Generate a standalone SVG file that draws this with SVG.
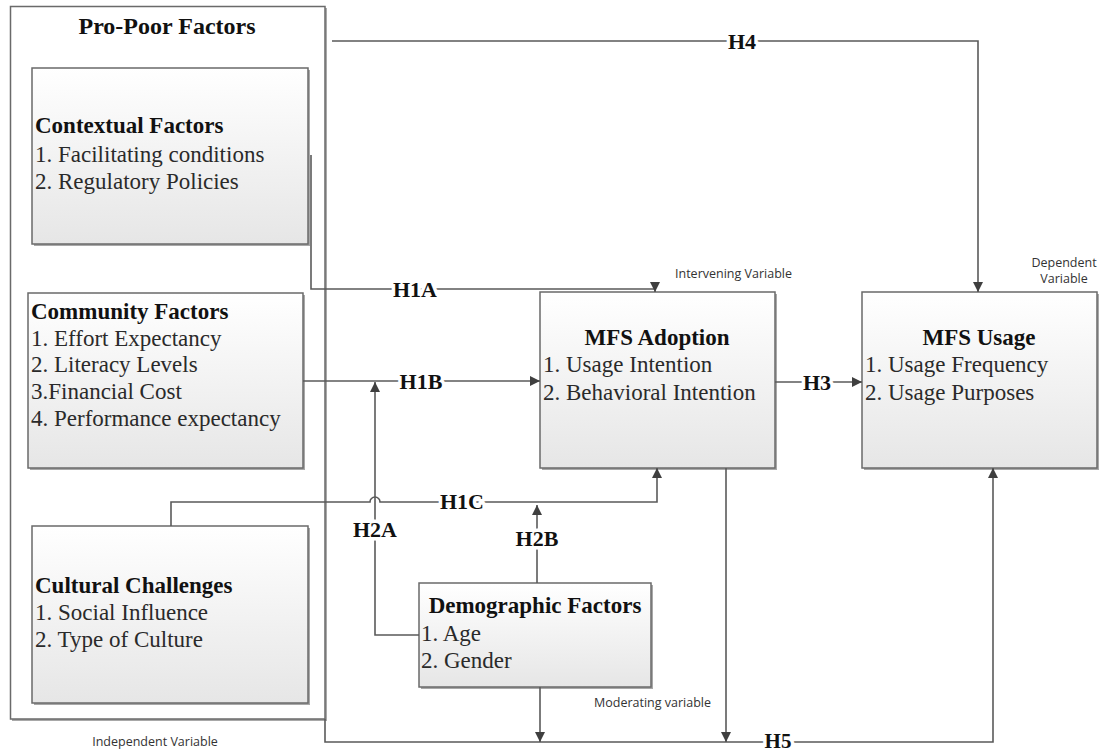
<svg xmlns="http://www.w3.org/2000/svg" width="1106" height="752" viewBox="0 0 1106 752">
  <defs>
    <linearGradient id="boxFill" x1="0" y1="0" x2="0" y2="1">
      <stop offset="0" stop-color="#ffffff"/>
      <stop offset="1" stop-color="#e6e6e6"/>
    </linearGradient>
    <marker id="arrow" viewBox="0 0 10 10" refX="10" refY="5" markerWidth="11" markerHeight="10" markerUnits="userSpaceOnUse" orient="auto">
      <path d="M0,0 L10,5 L0,10 z" fill="#3f3f3f"/>
    </marker>
  </defs>
  <style>
    .frame { fill: #ffffff; stroke: #6a6a6a; stroke-width: 1.5; }
    .box { fill: url(#boxFill); stroke: #6a6a6a; stroke-width: 1.5; }
    .shadow { fill: #a8a8a8; }
    .title { font-family: "Liberation Serif", "Times New Roman", serif; font-weight: bold; font-size: 23px; fill: #111; }
    .item { font-family: "Liberation Serif", "Times New Roman", serif; font-size: 23px; fill: #2a2a2a; }
    .note { font-family: "Open Sans", "Liberation Sans", sans-serif; font-size: 12.5px; fill: #333; }
    .wire { fill: none; stroke: #5a5a5a; stroke-width: 1.6; }
    .hyp { font-family: "Liberation Serif", "Times New Roman", serif; font-weight: bold; font-size: 22px; fill: #111;
           stroke: #ffffff; stroke-width: 7; paint-order: stroke; stroke-linejoin: round; }
  </style>

  <rect width="1106" height="752" fill="#ffffff"/>

  <!-- Independent variable frame -->
  <g id="pro-poor-factors">
    <rect class="shadow" x="12" y="8" width="315" height="713"/>
    <rect class="frame" x="10.5" y="6.5" width="314.5" height="712.5"/>
    <text class="title" x="167" y="34" text-anchor="middle" style="font-size:24px">Pro-Poor Factors</text>
  </g>

  <g id="contextual-factors">
    <rect class="shadow" x="34" y="70" width="276" height="176"/>
    <rect class="box" x="32" y="68" width="276" height="176"/>
    <text class="title" x="35" y="133">Contextual Factors</text>
    <text class="item" x="35" y="162">1. Facilitating conditions</text>
    <text class="item" x="35" y="189">2. Regulatory Policies</text>
  </g>

  <g id="community-factors">
    <rect class="shadow" x="30" y="295" width="275" height="175"/>
    <rect class="box" x="28" y="293" width="275" height="175"/>
    <text class="title" x="31" y="319">Community Factors</text>
    <text class="item" x="31" y="346">1. Effort Expectancy</text>
    <text class="item" x="31" y="372">2. Literacy Levels</text>
    <text class="item" x="31" y="399">3.Financial Cost</text>
    <text class="item" x="31" y="426">4. Performance expectancy</text>
  </g>

  <g id="cultural-challenges">
    <rect class="shadow" x="34" y="528" width="276" height="177"/>
    <rect class="box" x="32" y="526" width="276" height="177"/>
    <text class="title" x="35" y="593">Cultural Challenges</text>
    <text class="item" x="35" y="620">1. Social Influence</text>
    <text class="item" x="35" y="647">2. Type of Culture</text>
  </g>

  <g id="mfs-adoption">
    <rect class="shadow" x="542" y="294" width="235" height="176"/>
    <rect class="box" x="540" y="292" width="235" height="176"/>
    <text class="title" x="657" y="345" text-anchor="middle">MFS Adoption</text>
    <text class="item" x="543" y="372">1. Usage Intention</text>
    <text class="item" x="543" y="400">2. Behavioral Intention</text>
  </g>

  <g id="mfs-usage">
    <rect class="shadow" x="864" y="294" width="235" height="176"/>
    <rect class="box" x="862" y="292" width="235" height="176"/>
    <text class="title" x="979" y="345" text-anchor="middle">MFS Usage</text>
    <text class="item" x="865" y="372">1. Usage Frequency</text>
    <text class="item" x="865" y="400">2. Usage Purposes</text>
  </g>

  <g id="demographic-factors">
    <rect class="shadow" x="421" y="585" width="232" height="104"/>
    <rect class="box" x="419" y="583" width="232" height="104"/>
    <text class="title" x="535" y="613" text-anchor="middle">Demographic Factors</text>
    <text class="item" x="421" y="641">1. Age</text>
    <text class="item" x="421" y="668">2. Gender</text>
  </g>

  <!-- Variable role notes -->
  <g id="notes">
    <text class="note" x="675" y="278">Intervening Variable</text>
    <text class="note" x="1064" y="267" text-anchor="middle">Dependent</text>
    <text class="note" x="1064" y="283" text-anchor="middle">Variable</text>
    <text class="note" x="594" y="707">Moderating variable</text>
    <text class="note" x="155" y="746" text-anchor="middle">Independent Variable</text>
  </g>

  <!-- Hypothesis paths -->
  <g id="connectors">
    <path class="wire" d="M332,41 H978 V292" marker-end="url(#arrow)"/>
    <path class="wire" d="M311,155 V289 H655 V292" marker-end="url(#arrow)"/>
    <path class="wire" d="M303,381 H540" marker-end="url(#arrow)"/>
    <path class="wire" d="M171,526 V502 H370 A5,5 0 0 1 380,502 H657 V468" marker-end="url(#arrow)"/>
    <path class="wire" d="M419,635 H375 V382" marker-end="url(#arrow)"/>
    <path class="wire" d="M537,583 V505" marker-end="url(#arrow)"/>
    <path class="wire" d="M775,382 H862" marker-end="url(#arrow)"/>
    <path class="wire" d="M325,719 V742 H993 V468" marker-end="url(#arrow)"/>
    <path class="wire" d="M540,687 V742" marker-end="url(#arrow)"/>
    <path class="wire" d="M726,468 V742" marker-end="url(#arrow)"/>

    <text class="hyp" x="742" y="49" text-anchor="middle">H4</text>
    <text class="hyp" x="415" y="297" text-anchor="middle">H1A</text>
    <text class="hyp" x="421" y="389" text-anchor="middle">H1B</text>
    <text class="hyp" x="462" y="509" text-anchor="middle">H1C</text>
    <text class="hyp" x="375" y="537" text-anchor="middle">H2A</text>
    <text class="hyp" x="537" y="546" text-anchor="middle">H2B</text>
    <text class="hyp" x="817" y="390" text-anchor="middle">H3</text>
    <text class="hyp" x="778" y="748" text-anchor="middle" style="font-size:21px">H5</text>
  </g>
</svg>
